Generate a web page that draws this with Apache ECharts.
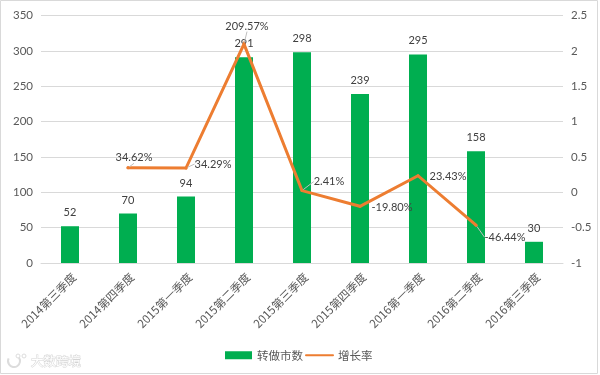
<!DOCTYPE html>
<html><head><meta charset="utf-8">
<style>html,body{margin:0;padding:0;background:#fff}#c{width:600px;height:375px}</style>
<script src="https://cdn.jsdelivr.net/npm/echarts@6/dist/echarts.min.js"></script>
</head><body><div id="c"></div>
<script>
const categories = ['2014第三季度','2014第四季度','2015第一季度','2015第二季度','2015第三季度','2015第四季度','2016第一季度','2016第二季度','2016第三季度'];
const counts = [52,70,94,291,298,239,295,158,30];
const growth = [null,0.3462,0.3429,2.0957,0.0241,-0.198,0.2343,-0.4644,null];
const growthLabels = ['','34.62%','34.29%','209.57%','2.41%','-19.80%','23.43%','-46.44%',''];
const labelShift = [[0,0],[6,-10],[27,-4],[3,-18],[27,-9],[32,1],[30,1],[29,12],[0,0]];
const leaderLines = [false,true,true,true,true,false,false,true,false];
const font = '"Noto Sans CJK SC","Lato",sans-serif';
const numFont = 'Lato,"Noto Sans",sans-serif';
const chart = echarts.init(document.getElementById('c'));
chart.setOption({
  animation:false,
  textStyle:{fontFamily:font},
  grid:{left:41,right:37,top:15.5,bottom:112,containLabel:false},
  legend:{bottom:9,left:220,itemGap:2,itemWidth:27,itemHeight:8,
    textStyle:{fontSize:11.5,color:'#595959',fontFamily:font},
    data:[{name:'转做市数',icon:'rect'},{name:'增长率',itemStyle:{opacity:0}}]},
  xAxis:{type:'category',data:categories,
    axisLine:{lineStyle:{color:'#d9d9d9',width:1}},axisTick:{show:false},
    axisLabel:{rotate:45,interval:0,fontSize:11.5,color:'#595959',margin:8,verticalAlign:'top',fontFamily:font}},
  yAxis:[
    {type:'value',min:0,max:350,interval:50,axisLine:{show:false},axisTick:{show:false},
     splitLine:{lineStyle:{color:'#d9d9d9',width:1}},
     axisLabel:{fontSize:11.5,color:'#595959',margin:8,fontFamily:numFont}},
    {type:'value',min:-1,max:2.5,interval:0.5,axisLine:{show:false},axisTick:{show:false},
     splitLine:{show:false},
     axisLabel:{fontSize:11.5,color:'#595959',margin:8,fontFamily:numFont}}
  ],
  series:[
    {name:'转做市数',type:'bar',data:counts,barWidth:18,itemStyle:{color:'#00ae50'},
     label:{show:true,position:'top',distance:8,fontSize:11,color:'#404040',fontFamily:numFont}},
    {name:'增长率',type:'line',yAxisIndex:1,
     data:growth.map((v,i)=>({value:v,labelLine:{show:leaderLines[i],lineStyle:{color:'#bfbfbf',width:1}}})),
     showSymbol:true,symbol:'circle',symbolSize:3,connectNulls:false,
     lineStyle:{color:'#ed7d31',width:3,cap:'round',join:'miter'},itemStyle:{color:'#ed7d31'},
     z:5,
     label:{show:true,position:'inside',fontSize:11,color:'#404040',fontFamily:numFont,
       formatter:p=>growthLabels[p.dataIndex]},
     labelLayout:p=>{const s=labelShift[p.dataIndex];return {dx:s[0],dy:s[1]};}}
  ],
  graphic:[
    {type:'rect',shape:{x:0.5,y:0.5,width:597,height:373},style:{fill:'none',stroke:'#d9d9d9',lineWidth:1},silent:true,z:-1},
    {type:'arc',shape:{cx:14,cy:361,r:6,startAngle:-0.6,endAngle:3.6,clockwise:true},style:{fill:'none',stroke:'#dcdcdc',lineWidth:2},silent:true},
    {type:'circle',shape:{cx:18,cy:356,r:2},style:{fill:'none',stroke:'#dcdcdc',lineWidth:1},silent:true},
    {type:'circle',shape:{cx:24,cy:356,r:2},style:{fill:'none',stroke:'#dcdcdc',lineWidth:1},silent:true},
    {type:'text',x:31,y:355,style:{text:'大数跨境',font:'12.5px '+font,fill:'#fff',stroke:'#d4d4d4',lineWidth:1},silent:true}
  ]
});
</script></body></html>
